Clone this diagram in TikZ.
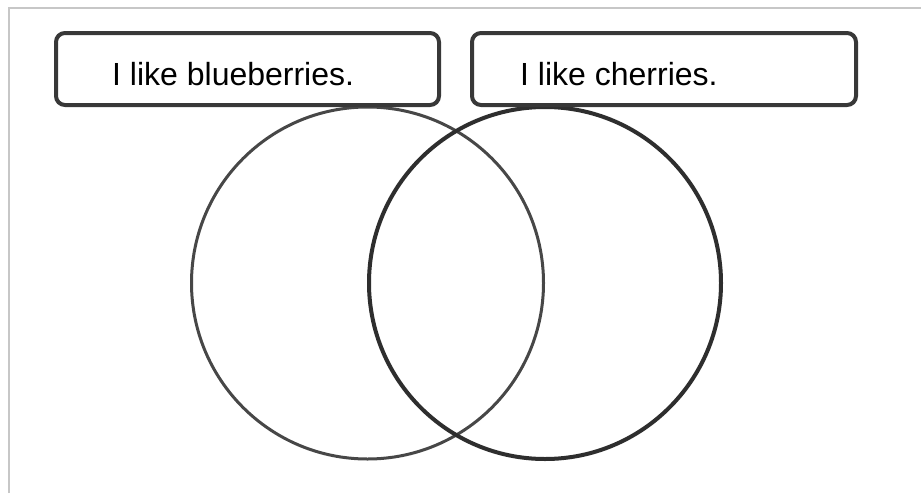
\documentclass[tikz,border=0pt]{standalone}
\usepackage{fontspec}
\setmainfont{Liberation Sans}
\begin{document}
\begin{tikzpicture}[x=1pt,y=-1pt,
  labelbox/.style={draw=black!78,line width=4pt,rounded corners=9pt},
  labeltext/.style={anchor=base west,inner sep=0pt,font=\fontsize{32}{36}\selectfont},
  frameline/.style={draw=black!22,line width=1.5pt}]
\useasboundingbox (0,0) rectangle (921,493);
\fill[white] (0,0) rectangle (921,493);
\draw[frameline] (9,493) -- (9,8) -- (921,8);
% circles
\draw[black!72,line width=3pt] (367.5,283) circle[radius=176];
\draw[black!82,line width=4pt] (545,283) circle[radius=176];
% label boxes
\draw[labelbox,fill=white] (56,33) rectangle (439,105);
\draw[labelbox,fill=white] (472,33) rectangle (856,105);
\node[labeltext] (blue) at (112,85) {I like blueberries.};
\node[labeltext] (cherry) at (520,85) {I like cherries.};
\end{tikzpicture}
\end{document}
